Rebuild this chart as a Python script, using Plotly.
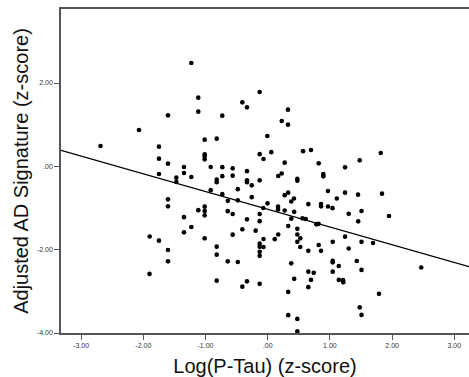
import plotly.graph_objects as go

# Log(P-Tau) z-scores (x) and Adjusted AD Signature z-scores (y)
log_ptau = [
    -1.228, -1.116, -1.116, -1.603, -0.730, -2.069, -2.688, -1.748, -1.013, -0.820,
    -1.748, -0.129, -0.408, -0.333, 0.326, 0.225, 0.326, -0.006, -1.013, -1.013,
    -1.013, -0.129, 0.058, -0.068, 0.568, 0.696, 1.817, 1.479, -1.603, -1.346,
    -1.346, -1.748, -1.469, -1.469, -1.228, -1.603, -0.916, -0.730, -0.563, -0.333,
    -0.730, -0.563, -0.820, -0.820, -0.333, -0.333, -0.257, -0.129, 0.169, 0.225,
    0.476, 0.476, 0.273, 0.820, 1.243, 0.894, 0.894, -0.916, -0.730, -0.481,
    -0.257, 0.273, 0.330, 0.423, 0.969, 1.111, 1.243, 1.452, 1.838, -1.603,
    -1.116, -1.346, -1.228, -1.346, -1.897, -1.748, -1.603, -1.603, -1.900, -1.013,
    -1.013, -1.013, -0.641, -0.481, -0.643, -0.563, -0.003, -0.071, 0.166, 0.166,
    0.273, 0.379, 0.426, 0.653, 0.857, 0.857, 0.969, 1.042, -0.129, -0.333,
    -0.129, 0.379, 0.559, 0.611, 1.302, 1.508, 1.455, 1.950, 0.781, 0.817,
    -1.013, -0.563, -0.408, -0.193, 0.330, 0.476, 0.476, 0.524, 0.476, 0.523,
    0.169, 0.113, -0.068, -0.129, -0.129, -0.068, -0.129, -0.129, -0.820, -0.820,
    1.243, 1.508, 1.693, 1.045, 0.820, 0.857, 0.653, 1.302, -0.643, -0.481,
    0.378, 0.653, 0.740, 1.045, 1.045, 1.045, 1.143, 1.432, 1.508, 0.696,
    1.143, 1.211, 1.215, 0.426, -0.820, -0.333, -0.408, -0.129, 0.653, 0.330,
    1.789, 2.468, 1.479, 1.508, 0.330, 0.476, 0.476,
]
ad_signature = [
    2.481, 1.649, 1.313, 1.224, 1.217, 0.874, 0.490, 0.473, 0.641, 0.665,
    0.185, 1.785, 1.536, 1.416, 1.361, 1.090, 1.001, 0.730, 0.288, 0.240,
    0.168, 0.293, 0.341, 0.178, 0.365, 0.394, 0.322, 0.144, 0.065, -0.014,
    -0.158, -0.182, -0.271, -0.374, -0.254, -0.792, -0.014, -0.019, -0.048, -0.115,
    -0.235, -0.223, -0.319, -0.379, -0.336, -0.379, -0.456, -0.336, -0.230, -0.170,
    -0.300, -0.343, 0.089, 0.072, -0.024, -0.187, -0.240, -0.571, -0.667, -0.547,
    -0.739, -0.691, -0.631, -0.770, -0.590, -0.770, -0.631, -0.679, -0.655, -0.960,
    -1.051, -1.219, -1.454, -1.584, -1.682, -1.783, -2.006, -2.280, -2.582, -0.967,
    -1.070, -1.176, -0.828, -0.816, -1.075, -1.142, -0.888, -0.998, -0.962, -1.034,
    -1.058, -0.842, -1.092, -0.907, -0.902, -0.960, -0.962, -1.003, -1.142, -1.272,
    -1.315, -1.255, -1.248, -1.262, -1.140, -1.070, -1.320, -1.190, -1.392, -1.380,
    -1.728, -1.639, -1.512, -1.543, -1.430, -1.500, -1.634, -1.728, -1.812, -1.934,
    -1.634, -1.747, -1.742, -1.855, -1.932, -1.934, -2.052, -2.148, -1.927, -2.119,
    -1.687, -1.812, -1.838, -1.812, -1.886, -2.028, -2.028, -1.970, -2.280, -2.294,
    -2.328, -2.527, -2.556, -2.268, -2.304, -2.527, -2.390, -2.270, -2.486, -2.726,
    -2.726, -2.731, -2.784, -2.700, -2.743, -2.760, -2.887, -2.820, -2.899, -3.014,
    -3.060, -2.426, -3.384, -3.566, -3.571, -3.662, -3.960,
]

# Fitted regression line
fit_intercept = -1.03
fit_slope = -0.425

x_range = [-3.323, 3.236]
y_range = [-4.0, 3.777]

x_tick_values = [-3, -2, -1, 0, 1, 2, 3]
x_tick_labels = ["-3.00", "-2.00", "-1.00", ".00", "1.00", "2.00", "3.00"]
y_tick_values = [-4, -2, 0, 2]
y_tick_labels = ["-4.00", "-2.00", ".00", "2.00"]

fig = go.Figure()
fig.add_trace(go.Scatter(
    x=log_ptau, y=ad_signature, mode="markers",
    marker=dict(color="black", size=4.6, line=dict(width=0)),
    showlegend=False, hoverinfo="x+y",
))
fit_x = list(x_range)
fit_y = [fit_intercept + fit_slope * v for v in fit_x]
fig.add_trace(go.Scatter(
    x=fit_x, y=fit_y, mode="lines",
    line=dict(color="black", width=1.3),
    showlegend=False, hoverinfo="skip",
))

axis_font = dict(family="Liberation Sans, Arial, sans-serif", size=7, color="#333333")
title_font = dict(family="Liberation Sans, Arial, sans-serif", size=20, color="#111111")

fig.update_layout(
    width=469, height=377,
    margin=dict(l=61, r=0, t=9, b=44, autoexpand=False),
    paper_bgcolor="white", plot_bgcolor="white",
    xaxis=dict(
        range=x_range, showgrid=False, zeroline=False,
        showline=True, linecolor="#555555", linewidth=1.5, mirror=True,
        ticks="outside", ticklen=5, tickcolor="#555555", tickwidth=1,
        tickvals=x_tick_values, ticktext=x_tick_labels, tickfont=axis_font,
        title=dict(text="Log(P-Tau) (z-score)", font=title_font, standoff=13),
        automargin=False,
    ),
    yaxis=dict(
        range=y_range, showgrid=False, zeroline=False,
        showline=True, linecolor="#555555", linewidth=1.5, mirror=False,
        ticks="outside", ticklen=5, tickcolor="#555555", tickwidth=1,
        tickvals=y_tick_values, ticktext=y_tick_labels, tickfont=axis_font,
        title=dict(text="Adjusted AD Signature (z-score)", font=title_font, standoff=3),
        automargin=False,
    ),
)

fig.write_html("out.html")
